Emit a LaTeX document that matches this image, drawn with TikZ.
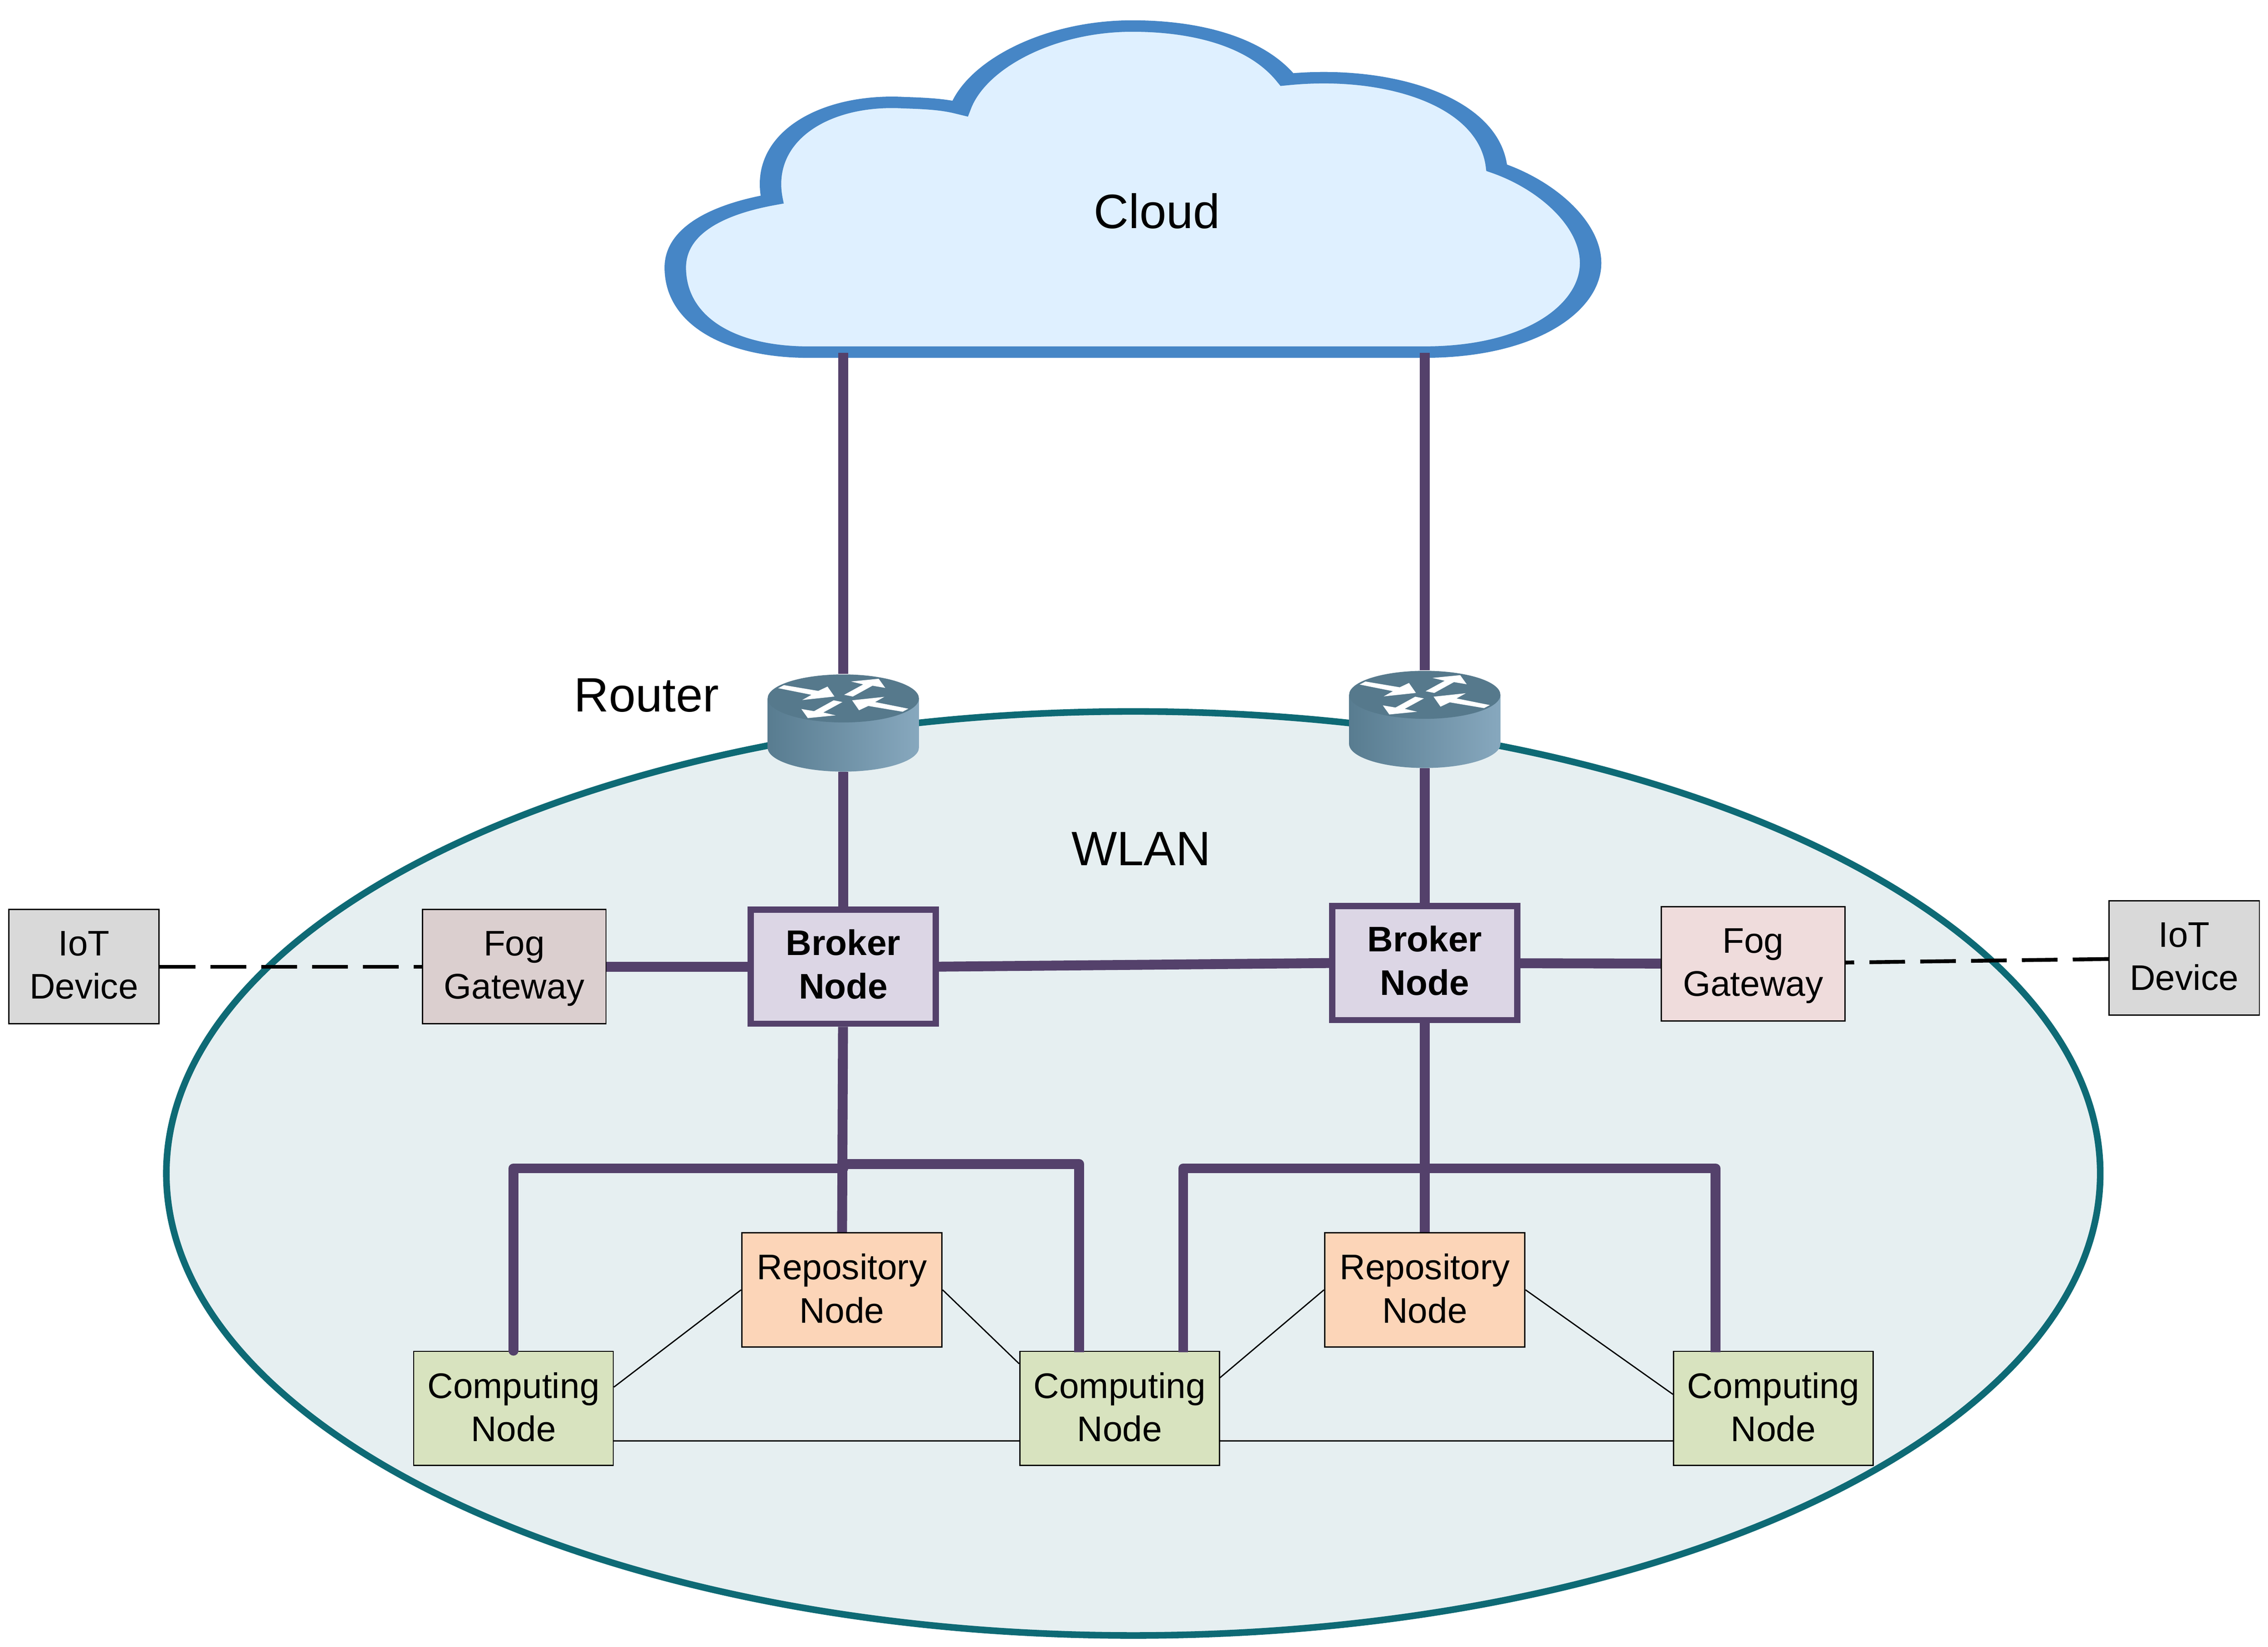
\documentclass[tikz,border=0pt]{standalone}
\usepackage{fontspec}
\setmainfont{Liberation Sans}
\definecolor{wlanfill}{HTML}{E6EFF1}
\definecolor{wlanline}{HTML}{0E6A75}
\definecolor{cloudfill}{HTML}{DFF0FF}
\definecolor{cloudline}{HTML}{4686C6}
\definecolor{trunkcol}{HTML}{54416B}
\definecolor{brokerfill}{HTML}{DCD6E5}
\definecolor{iotfill}{HTML}{D9D9D9}
\definecolor{fogleft}{HTML}{DBCFCF}
\definecolor{fogright}{HTML}{EFDCDC}
\definecolor{repofill}{HTML}{FCD5B8}
\definecolor{compfill}{HTML}{D8E3BF}
\definecolor{routertop}{HTML}{56798C}
\definecolor{routerleft}{HTML}{587C90}
\definecolor{routerright}{HTML}{87A8BE}
\begin{document}
\begin{tikzpicture}[x=.02cm,y=-.02cm]
        % Styles
        \tikzstyle{box}=[draw=black,line width=.5pt,inner sep=0pt,align=center,minimum height=1.58cm,font=\fontsize{14}{17}\selectfont,execute at end node={\rule[-1.2pt]{0pt}{0pt}}]
        \tikzstyle{iot}=[box,fill=iotfill,minimum width=2.08cm]
        \tikzstyle{fog}=[box,minimum width=2.54cm]
        \tikzstyle{repo}=[box,fill=repofill,minimum width=2.77cm]
        \tikzstyle{comp}=[box,fill=compfill,minimum width=2.76cm]
        \tikzstyle{broker}=[box,draw=trunkcol,line width=2.4pt,fill=brokerfill,minimum width=2.56cm,minimum height=1.58cm,font=\fontsize{14}{17}\selectfont\bfseries,execute at end node={\rule[-2pt]{0pt}{0pt}}]
        \tikzstyle{title}=[inner sep=0pt,font=\fontsize{19}{22}\selectfont]
        \tikzstyle{routerbox}=[inner sep=0pt,minimum width=2.09cm,minimum height=1.34cm]
        \tikzstyle{trunk}=[draw=trunkcol,line width=3.9pt,line join=round]
        \tikzstyle{wire}=[draw=black,line width=.5pt]
        \tikzstyle{radio}=[draw=black,line width=1.5pt,dash pattern=on 14pt off 6pt]
        \useasboundingbox (0,0) rectangle (1568,1138.7);
        %wlan
        \draw[draw=wlanline,fill=wlanfill,line width=2.6pt] (783.5,811.5) ellipse [x radius=668.5,y radius=319.5];
        %cloud, stretched sideways as its outline is wider on the flanks
        \begin{scope}[x=.010667cm,transform canvas={xscale=1.875}]
            \draw[draw=cloudline,fill=cloudfill,line width=4.5pt,miter limit=4] (557,243.5)
                .. controls (505,243) and (467,222) .. (467,185)
                .. controls (467,160) and (495,145) .. (534,138)
                .. controls (525,95) and (570,68) .. (625,71)
                .. controls (640,71.5) and (652,72) .. (664,75)
                .. controls (675,45) and (725,18) .. (783,18)
                .. controls (830,18) and (870,30) .. (890,55)
                .. controls (960,48) and (1030,70) .. (1035,116)
                .. controls (1070,128) and (1100,155) .. (1100,182)
                .. controls (1100,212) and (1060,243.5) .. (985,243.5) -- cycle;
        \end{scope}
        \coordinate (cloudA) at (583,244);
        \coordinate (cloudB) at (985,244);
        %labels
        \node[title] (cloudtext) at (800,146) {Cloud};
        \node[title] (routertext) at (447,481) {Router};
        \node[title] (wlantext) at (789,587) {WLAN};
        %routers
        \foreach \rx/\ry/\rname in {583/483/routerA,985/480.5/routerB}
        {
            \begin{scope}[shift={(\rx,\ry)}]
                \shade[left color=routerleft,right color=routerright] (-52.3,0) -- (-52.3,34) arc[start angle=180,end angle=0,x radius=52.3,y radius=16.6] -- (52.3,0) -- cycle;
                \fill[routertop] (0,0) ellipse [x radius=52.3,y radius=16.6];
                \foreach \rot in {0,180}
                {
                    \fill[white,rotate=\rot] (-45,-7.1) -- (-41,-9.2) -- (-17.3,-5.2) -- (-10.9,-8.2) -- (-6.1,-1.3) -- (-28.4,1.1) -- (-22,-2.5) -- cycle;
                    \fill[white,rotate=\rot] (.6,-2.5) -- (13.8,-9.7) -- (5.3,-11.7) -- (24.5,-13.6) -- (29,-7.3) -- (20.2,-8.8) -- (6.6,-1.3) -- cycle;
                }
                \node[routerbox] (\rname) at (0,16.9) {};
            \end{scope}
        }
        %nodes
        \node[iot] (iotA) at (58,668.5) {IoT\\Device};
        \node[fog,fill=fogleft] (fogA) at (355.5,668.5) {Fog\\\smash{Gateway}};
        \node[broker] (brokerA) at (583,668.5) {Broker\\Node};
        \node[broker] (brokerB) at (985,666) {Broker\\Node};
        \node[fog,fill=fogright] (fogB) at (1212,666.5) {Fog\\\smash{Gateway}};
        \node[iot] (iotB) at (1510,662.5) {IoT\\Device};
        \node[repo] (repoA) at (582,892) {Repository\\Node};
        \node[repo] (repoB) at (985,892) {Repository\\Node};
        \node[comp] (compA) at (355,974) {Computing\\Node};
        \node[comp] (compB) at (774,974) {Computing\\Node};
        \node[comp] (compC) at (1226,974) {Computing\\Node};
        %bus corners
        \coordinate (busAl) at (583,808);
        \coordinate (busAr) at (583,805);
        \coordinate (busB) at (985,808);
        \coordinate (dropA) at (746,935);
        \coordinate (dropB) at (818,935);
        \coordinate (dropC) at (1186,935);
        %thick links
        \draw[trunk] (cloudA) -- (routerA);
        \draw[trunk] (cloudB) -- (routerB);
        \draw[trunk] (routerA) -- (brokerA);
        \draw[trunk] (routerB) -- (brokerB);
        \draw[trunk] (fogA) -- (brokerA);
        \draw[trunk] (brokerA.east) -- (brokerB.west);
        \draw[trunk] (brokerB) -- (fogB);
        \draw[trunk] (brokerA) -- (repoA);
        \draw[trunk] (brokerB) -- (repoB);
        \draw[trunk,line cap=round] (compA.north) |- (busAl);
        \draw[trunk] (busAr) -| (dropA);
        \draw[trunk] (dropB) |- (busB) -| (dropC);
        %dashed links
        \draw[radio] (iotA) -- (fogA);
        \draw[radio] (iotB) -- (fogB);
        %thin links
        \draw[wire] (compA.12) -- (repoA.west);
        \draw[wire] (repoA.east) -- (compB.156);
        \draw[wire] (compB.17) -- (repoB.west);
        \draw[wire] (repoB.east) -- (compC.172);
        \draw[wire] (compA.-18) -- (compB.198);
        \draw[wire] (compB.-18) -- (compC.198);
\end{tikzpicture}
\end{document}
